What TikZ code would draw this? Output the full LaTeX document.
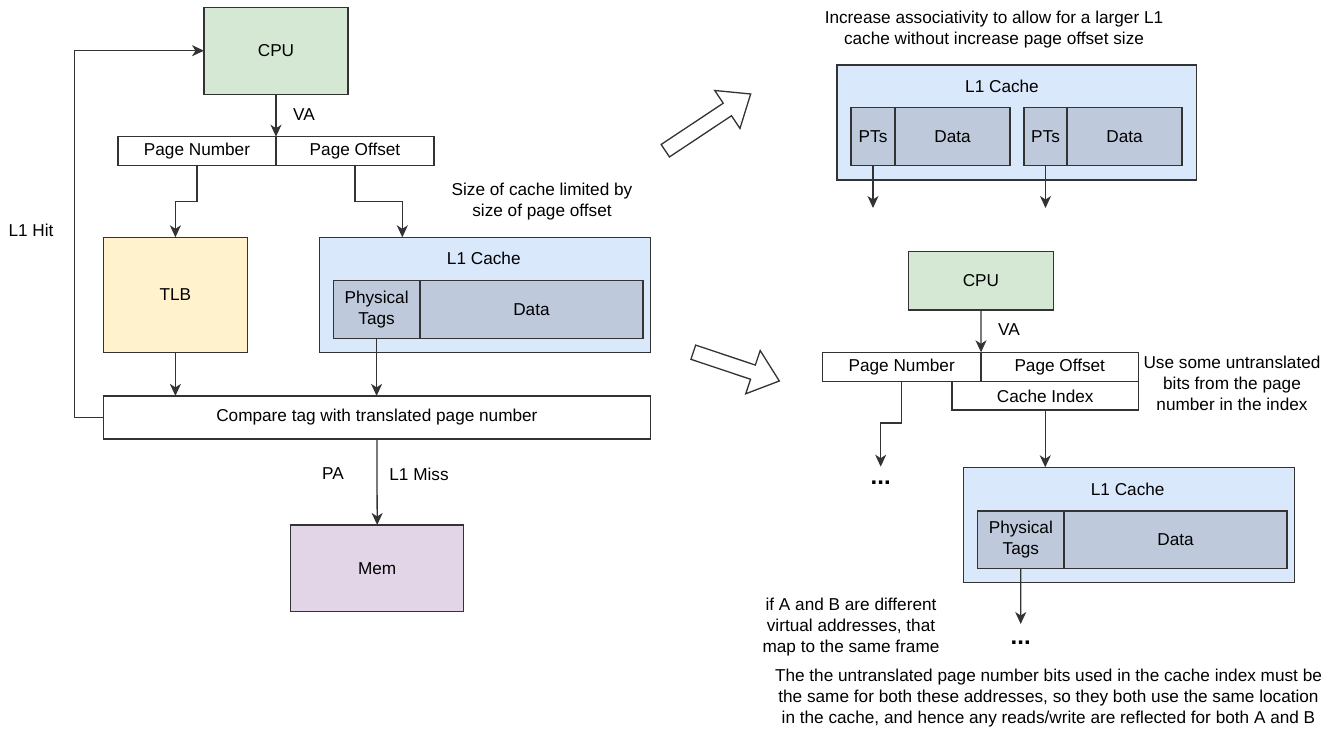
\documentclass[tikz,border=0pt]{standalone}
\usepackage{fontspec}
\setmainfont{Liberation Sans}
\usetikzlibrary{arrows.meta,calc,positioning}
\definecolor{cpuColor}{HTML}{D5E8D4}
\definecolor{tlbColor}{HTML}{FFF2CC}
\definecolor{cacheColor}{HTML}{DAE8FC}
\definecolor{lineColor}{HTML}{BECADC}
\definecolor{memColor}{HTML}{E1D5E7}
\definecolor{strokeColor}{HTML}{333333}
\tikzset{component/.style={draw=strokeColor, line width=1.3pt, align=center, inner sep=0pt, outer sep=0pt}}
\tikzset{field/.style={component, fill=white, minimum height=29pt}}
\tikzset{cacheline/.style={component, fill=lineColor}}
\tikzset{note/.style={align=center, inner sep=0pt}}
\tikzset{dots/.style={note, font=\fontsize{24}{24}\selectfont\bfseries}}
\tikzset{flow/.style={draw=strokeColor, line width=1.3pt, -{Stealth[length=12pt,width=11pt,inset=3.5pt]}}}
\tikzset{bigarrow/.style={draw=strokeColor, line width=1.3pt, fill=white, line join=miter}}

\begin{document}
\begin{tikzpicture}[x=1pt, y=-1pt, font=\fontsize{17.2}{21}\selectfont]
\useasboundingbox (0,0) rectangle (1339,729);
% Nodes

\node (CPULeft) [component, fill=cpuColor, minimum width=144pt, minimum height=87pt] at (276,50.7) {CPU};

\node (PageNumberLeft) [field, minimum width=158pt] at (197,151.2) {Page Number};
\node (PageOffsetLeft) [field, minimum width=158pt, right=0pt of PageNumberLeft] {Page Offset};

\node (TLB) [component, fill=tlbColor, minimum width=144pt, minimum height=115.4pt] at (175.4,295) {TLB};

\node (L1CacheLeft) [component, fill=cacheColor, minimum width=330.7pt, minimum height=115.4pt] at (485,295) {};
\node (L1CacheLeftLabel) [note] at (483.8,258.7) {L1 Cache};
\node (TagsLeft) [cacheline, minimum width=86.7pt, minimum height=57.6pt] at (376.6,309.5) {Physical\\Tags};
\node (DataLeft) [cacheline, minimum width=223pt, minimum height=57.6pt, right=0pt of TagsLeft] {Data};

\node (Compare) [component, fill=white, minimum width=547pt, minimum height=43pt] at (376.9,417.4) {Compare tag with translated page number};

\node (Mem) [component, fill=memColor, minimum width=173pt, minimum height=86.7pt] at (377.2,568.3) {Mem};

\node (SizeNote) [note] at (542,201.5) {Size of cache limited by\\size of page offset};
\node (HitLabel) [note] at (31,230) {L1 Hit};
\node (VALeft) [note] at (304,115) {VA};
\node (PALabel) [note] at (333,474) {PA};
\node (MissLabel) [note] at (419,474) {L1 Miss};

\node (AssocNote) [note] at (994,29.5) {Increase associativity to allow for a larger L1\\cache without increase page offset size};

\node (L1CacheTop) [component, fill=cacheColor, minimum width=359.4pt, minimum height=115pt] at (1016.7,122.5) {};
\node (L1CacheTopLabel) [note] at (1002,86.7) {L1 Cache};
\node (PTsOne) [cacheline, minimum width=44pt, minimum height=58pt] at (873,136.7) {PTs};
\node (DataOne) [cacheline, minimum width=115pt, minimum height=58pt, right=0pt of PTsOne] {Data};
\node (PTsTwo) [cacheline, minimum width=43pt, minimum height=58pt] at (1045.5,136.7) {PTs};
\node (DataTwo) [cacheline, minimum width=115pt, minimum height=58pt, right=0pt of PTsTwo] {Data};
\coordinate (WayOneOut) at (873,208);
\coordinate (WayTwoOut) at (1045.5,208);

\node (CPURight) [component, fill=cpuColor, minimum width=145pt, minimum height=58.3pt] at (980.9,280.9) {CPU};
\node (VARight) [note] at (1009,330) {VA};

\node (PageNumberRight) [field, minimum width=158.7pt, minimum height=29.4pt] at (901.7,367) {Page Number};
\node (PageOffsetRight) [field, minimum width=157.4pt, minimum height=29.4pt, right=0pt of PageNumberRight] {Page Offset};
\node (CacheIndex) [field, minimum width=186.4pt, minimum height=28.3pt, anchor=north east] at (PageOffsetRight.south east) {Cache Index};
\node (IndexNote) [note] at (1232,383) {Use some untranslated\\bits from the page\\number in the index};

\node (L1CacheRight) [component, fill=cacheColor, minimum width=331.3pt, minimum height=115.4pt] at (1129,525) {};
\node (L1CacheRightLabel) [note] at (1127.7,489.3) {L1 Cache};
\node (TagsRight) [cacheline, minimum width=86.4pt, minimum height=57.3pt] at (1020.8,539.7) {Physical\\Tags};
\node (DataRight) [cacheline, minimum width=223pt, minimum height=57.3pt, right=0pt of TagsRight] {Data};

\coordinate (PageNumberOut) at (880.7,466.7);
\node (DotsA) [dots] at (880.7,482.5) {...};
\coordinate (TagsOut) at (1020.7,624);
\node (DotsB) [dots] at (1020.7,642.5) {...};

\node (AliasNote) [note] at (851,627.5) {if A and B are different\\virtual addresses, that\\map to the same frame};
\node (BottomNote) [note] at (1048.5,698.5) {The the untranslated page number bits used in the cache index must be\\the same for both these addresses, so they both use the same location\\in the cache, and hence any reads/write are reflected for both A and B};

% Big hollow arrows
\draw [bigarrow, shift={(665.3,150.7)}, rotate=33.6] (0,-7.5) -- (74.5,-7.5) -- (74.5,-22.8) -- (102.5,0) -- (74.5,22.8) -- (74.5,7.5) -- (0,7.5) -- cycle;
\draw [bigarrow, shift={(693.3,352.2)}, rotate=-18.5] (0,-7.5) -- (62.9,-7.5) -- (62.9,-22.8) -- (90.7,0) -- (62.9,22.8) -- (62.9,7.5) -- (0,7.5) -- cycle;

% Connectors
\begin{scope}[flow]

\draw (CPULeft.south) -- (PageNumberLeft.north east);
\draw (PageNumberLeft.south) -- ++(0,36) -| (TLB.north);
\draw (PageOffsetLeft.south) -- ++(0,36) -| ($(L1CacheLeft.north west)!0.25!(L1CacheLeft.north east)$);

\draw (TLB.south) -- (TLB.south |- Compare.north);
\draw (TagsLeft.south) -- (TagsLeft.south |- Compare.north);

\draw (Compare.south) -- (Mem.north);
\draw (Compare.west) -- ++(-28.6,0) |- (CPULeft.west);

\draw (PTsOne.south) -- (WayOneOut);
\draw (PTsTwo.south) -- (WayTwoOut);

\draw (CPURight.south) -- (PageNumberRight.north east);
\draw (PageNumberRight.south) -- ++(0,41.3) -| (PageNumberOut);
\draw (CacheIndex.south) -- (CacheIndex.south |- L1CacheRight.north);
\draw (TagsRight.south) -- (TagsOut);

\end{scope}

\end{tikzpicture}
\end{document}
